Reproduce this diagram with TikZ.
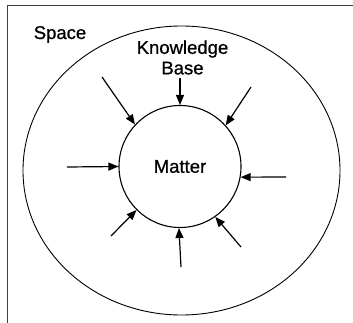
\documentclass[tikz,border=0pt]{standalone}
\usepackage{fontspec}
\setmainfont{Liberation Sans}
\newfontfamily\heavysans[FakeBold=0.8]{Liberation Sans}
\usetikzlibrary{shapes.geometric, arrows.meta}

\begin{document}
\begin{tikzpicture}[
    x=1pt, y=-1pt,
    label/.style={font=\heavysans\fontsize{18.5}{20.5}\selectfont, inner sep=0pt, align=center},
    region/.style={ellipse, draw=black, line width=0.9pt, inner sep=0pt},
    core/.style={circle, draw=black, line width=1.1pt, inner sep=0pt,
                 minimum size=122pt, font=\heavysans\fontsize{18.5}{20.5}\selectfont},
    arrow/.style={-{Triangle[length=10pt, width=8pt]}, line width=1.2pt, black},
]
    \useasboundingbox (0,0) rectangle (353,323);

    % frame (only top and left edges show)
    \draw[line width=1pt, black!75] (353,6) -- (7,6) -- (7,323);

    % space and matter
    \node[region, minimum width=317pt, minimum height=289pt] (space) at (181.5,170.5) {};
    \node[core] (matter) at (180,166.5) {Matter};

    \node[label, anchor=base] (spacetxt) at (60,39) {Space};
    \node[label] (kb) at (182.5,57.5) {Knowledge\\Base};

    % arrow tails
    \coordinate (tN)  at (180,78);
    \coordinate (tNW) at (102,77);
    \coordinate (tNE) at (251,87);
    \coordinate (tW)  at (67,167);
    \coordinate (tE)  at (286,177);
    \coordinate (tSW) at (111,236);
    \coordinate (tS)  at (181,267);
    \coordinate (tSE) at (241,247);

    % arrows into matter
    \draw[arrow] (tN)  -- (matter.90);
    \draw[arrow] (tNW) -- (matter.137);
    \draw[arrow] (tNE) -- (matter.42);
    \draw[arrow] (tW)  -- (matter.180);
    \draw[arrow] (tE)  -- (matter.350);
    \draw[arrow] (tSW) -- (matter.225);
    \draw[arrow] (tS)  -- (matter.269);
    \draw[arrow] (tSE) -- (matter.305);
\end{tikzpicture}
\end{document}
